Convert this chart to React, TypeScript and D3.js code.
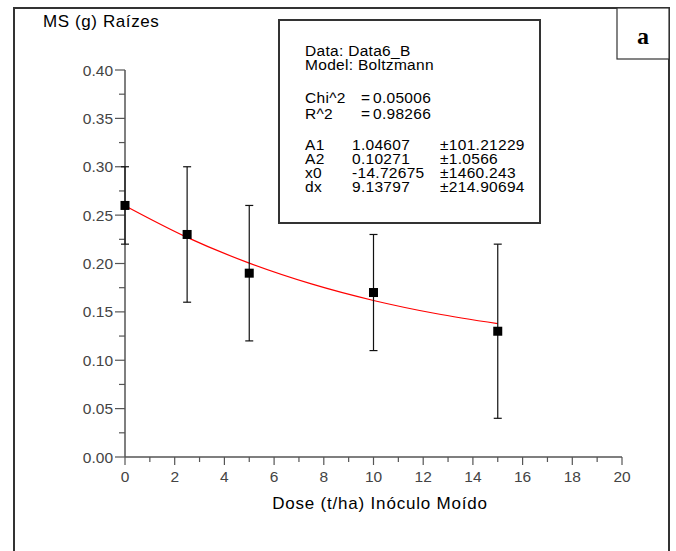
import { useEffect, useRef } from "react";
import * as d3 from "d3";

// measured points (mean with error bar limits)
const doses = [0, 2.5, 5, 10, 15];
const meanMS = [0.26, 0.23, 0.19, 0.17, 0.13];
const errLow = [0.22, 0.16, 0.12, 0.11, 0.04];
const errHigh = [0.3, 0.3, 0.26, 0.23, 0.22];

// red fitted curve
const fitX = [0, 2.5, 5, 7.5, 10, 12.5, 15];
const fitY = [0.2597, 0.227, 0.2004, 0.1789, 0.1618, 0.1483, 0.1378];

const xMajor = [0, 2, 4, 6, 8, 10, 12, 14, 16, 18, 20];
const xMinor = [1, 3, 5, 7, 9, 11, 13, 15, 17, 19];
const yMajor = [0, 0.05, 0.1, 0.15, 0.2, 0.25, 0.3, 0.35, 0.4];
const yMinor = [0.025, 0.075, 0.125, 0.175, 0.225, 0.275, 0.325, 0.375];

const headerLines = ["Data: Data6_B", "Model: Boltzmann"];
const statNames = ["Chi^2", "R^2"];
const statValues = ["0.05006", "0.98266"];
const paramNames = ["A1", "A2", "x0", "dx"];
const paramValues = ["1.04607", "0.10271", "-14.72675", "9.13797"];
const paramErrors = ["±101.21229", "±1.0566", "±1460.243", "±214.90694"];

const W = 676;
const H = 551;
const FONT = "'Liberation Sans', Arial, sans-serif";

export default function App() {
  const ref = useRef(null);

  useEffect(() => {
    const svg = d3.select(ref.current);
    svg.selectAll("*").remove();

    const x = d3.scaleLinear().domain([0, 20]).range([125, 622]);
    const y = d3.scaleLinear().domain([0, 0.4]).range([457, 70]);

    // outer frame
    svg.append("rect")
      .attr("x", 14).attr("y", 8)
      .attr("width", 655).attr("height", 560)
      .attr("fill", "white")
      .attr("stroke", "#333").attr("stroke-width", 2);

    // "a" panel label
    svg.append("rect")
      .attr("x", 617).attr("y", 8)
      .attr("width", 52).attr("height", 51)
      .attr("fill", "white")
      .attr("stroke", "#333").attr("stroke-width", 1.2);
    svg.append("text")
      .attr("x", 643).attr("y", 44)
      .attr("text-anchor", "middle")
      .style("font-family", "'Liberation Serif', 'Times New Roman', serif")
      .style("font-weight", "bold")
      .style("font-size", "24px")
      .text("a");

    // title
    svg.append("text")
      .attr("x", 43).attr("y", 27)
      .style("font-family", FONT)
      .style("font-size", "17px")
      .style("letter-spacing", "0.6px")
      .text("MS (g) Raízes");

    const axisColor = "#555";
    const tickColor = "#444";

    // y axis
    const yAxis = svg.append("g").attr("transform", "translate(125,0)");
    yAxis.append("line")
      .attr("x1", 0).attr("x2", 0)
      .attr("y1", y(0.4)).attr("y2", y(0))
      .attr("stroke", axisColor).attr("stroke-width", 1.5);
    yAxis.selectAll("line.major").data(yMajor).join("line")
      .attr("class", "major")
      .attr("x1", -10).attr("x2", 0)
      .attr("y1", d => y(d)).attr("y2", d => y(d))
      .attr("stroke", axisColor).attr("stroke-width", 1.2);
    yAxis.selectAll("line.minor").data(yMinor).join("line")
      .attr("class", "minor")
      .attr("x1", -6).attr("x2", 0)
      .attr("y1", d => y(d)).attr("y2", d => y(d))
      .attr("stroke", axisColor).attr("stroke-width", 1.2);
    yAxis.selectAll("text").data(yMajor).join("text")
      .attr("x", -12).attr("y", d => y(d))
      .attr("dy", "0.36em")
      .attr("text-anchor", "end")
      .attr("fill", tickColor)
      .style("font-family", FONT)
      .style("font-size", "15.5px")
      .text(d => d3.format(".2f")(d));

    // x axis
    const xAxis = svg.append("g").attr("transform", `translate(0,${y(0)})`);
    xAxis.append("line")
      .attr("x1", x(0)).attr("x2", x(20))
      .attr("y1", 0).attr("y2", 0)
      .attr("stroke", axisColor).attr("stroke-width", 1.5);
    xAxis.selectAll("line.major").data(xMajor).join("line")
      .attr("class", "major")
      .attr("x1", d => x(d)).attr("x2", d => x(d))
      .attr("y1", 0).attr("y2", 8)
      .attr("stroke", axisColor).attr("stroke-width", 1.2);
    xAxis.selectAll("line.minor").data(xMinor).join("line")
      .attr("class", "minor")
      .attr("x1", d => x(d)).attr("x2", d => x(d))
      .attr("y1", 0).attr("y2", 5)
      .attr("stroke", axisColor).attr("stroke-width", 1.2);
    xAxis.selectAll("text").data(xMajor).join("text")
      .attr("x", d => x(d)).attr("y", 25)
      .attr("text-anchor", "middle")
      .attr("fill", tickColor)
      .style("font-family", FONT)
      .style("font-size", "15.5px")
      .text(d => String(d));

    svg.append("text")
      .attr("x", 380).attr("y", 509)
      .attr("text-anchor", "middle")
      .style("font-family", FONT)
      .style("font-size", "17px")
      .style("letter-spacing", "0.8px")
      .text("Dose (t/ha) Inóculo Moído");

    // fitted curve
    const line = d3.line<number>()
      .x((d, i) => x(fitX[i]))
      .y(d => y(d))
      .curve(d3.curveMonotoneX);
    svg.append("path")
      .attr("d", line(fitY))
      .attr("fill", "none")
      .attr("stroke", "#ff0000")
      .attr("stroke-width", 1.2);

    // error bars
    const eb = svg.append("g").attr("stroke", "#111").attr("stroke-width", 1.2);
    doses.forEach((dv, i) => {
      const cx = x(dv);
      eb.append("line").attr("x1", cx).attr("x2", cx)
        .attr("y1", y(errLow[i])).attr("y2", y(errHigh[i]));
      eb.append("line").attr("x1", cx - 4).attr("x2", cx + 4)
        .attr("y1", y(errLow[i])).attr("y2", y(errLow[i]));
      eb.append("line").attr("x1", cx - 4).attr("x2", cx + 4)
        .attr("y1", y(errHigh[i])).attr("y2", y(errHigh[i]));
    });

    // square markers
    svg.selectAll("rect.pt").data(meanMS).join("rect")
      .attr("class", "pt")
      .attr("x", (d, i) => x(doses[i]) - 4.5)
      .attr("y", d => y(d) - 4.5)
      .attr("width", 9).attr("height", 9)
      .attr("fill", "black");

    // fit results box
    const box = svg.append("g");
    box.append("rect")
      .attr("x", 279).attr("y", 20)
      .attr("width", 261).attr("height", 203)
      .attr("fill", "white")
      .attr("stroke", "#333").attr("stroke-width", 2);
    const txt = (s: string, tx: number, ty: number) =>
      box.append("text")
        .attr("x", tx).attr("y", ty)
        .style("font-family", FONT)
        .style("font-size", "15.5px")
        .style("letter-spacing", "0.3px")
        .text(s);
    headerLines.forEach((s, i) => txt(s, 305, 56 + i * 14));
    statNames.forEach((s, i) => {
      const ty = 103 + i * 16;
      txt(s, 305, ty);
      txt("=", 361, ty);
      txt(statValues[i], 373, ty);
    });
    paramNames.forEach((s, i) => {
      const ty = 150 + i * 14;
      txt(s, 305, ty);
      txt(paramValues[i], 352, ty);
      txt(paramErrors[i], 440, ty);
    });
  }, []);

  return (
    <svg
      ref={ref}
      width={W}
      height={H}
      style={{ position: "absolute", left: 0, top: 0, display: "block", background: "white" }}
    />
  );
}
